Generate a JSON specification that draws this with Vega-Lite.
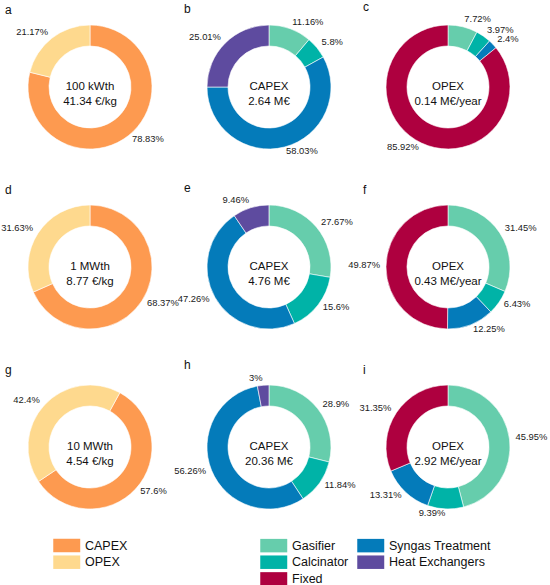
{
  "$schema": "https://vega.github.io/schema/vega-lite/v6.json",
  "padding": {"left": 1, "top": 0, "right": 0, "bottom": 0},
  "data": {
    "values": [
      {"panel": "a", "part": "CAPEX", "o": 1, "value": 78.83},
      {"panel": "a", "part": "OPEX", "o": 2, "value": 21.17},
      {"panel": "b", "part": "Gasifier", "o": 3, "value": 11.16},
      {"panel": "b", "part": "Calcinator", "o": 4, "value": 5.8},
      {"panel": "b", "part": "Syngas Treatment", "o": 5, "value": 58.03},
      {"panel": "b", "part": "Heat Exchangers", "o": 6, "value": 25.01},
      {"panel": "c", "part": "Gasifier", "o": 3, "value": 7.72},
      {"panel": "c", "part": "Calcinator", "o": 4, "value": 3.97},
      {"panel": "c", "part": "Syngas Treatment", "o": 5, "value": 2.4},
      {"panel": "c", "part": "Fixed", "o": 7, "value": 85.92},
      {"panel": "d", "part": "CAPEX", "o": 1, "value": 68.37},
      {"panel": "d", "part": "OPEX", "o": 2, "value": 31.63},
      {"panel": "e", "part": "Gasifier", "o": 3, "value": 27.67},
      {"panel": "e", "part": "Calcinator", "o": 4, "value": 15.6},
      {"panel": "e", "part": "Syngas Treatment", "o": 5, "value": 47.26},
      {"panel": "e", "part": "Heat Exchangers", "o": 6, "value": 9.46},
      {"panel": "f", "part": "Gasifier", "o": 3, "value": 31.45},
      {"panel": "f", "part": "Calcinator", "o": 4, "value": 6.43},
      {"panel": "f", "part": "Syngas Treatment", "o": 5, "value": 12.25},
      {"panel": "f", "part": "Fixed", "o": 7, "value": 49.87},
      {"panel": "g", "part": "CAPEX", "o": 1, "value": 57.6},
      {"panel": "g", "part": "OPEX", "o": 2, "value": 42.4},
      {"panel": "h", "part": "Gasifier", "o": 3, "value": 28.9},
      {"panel": "h", "part": "Calcinator", "o": 4, "value": 11.84},
      {"panel": "h", "part": "Syngas Treatment", "o": 5, "value": 56.26},
      {"panel": "h", "part": "Heat Exchangers", "o": 6, "value": 3},
      {"panel": "i", "part": "Gasifier", "o": 3, "value": 45.95},
      {"panel": "i", "part": "Calcinator", "o": 4, "value": 9.39},
      {"panel": "i", "part": "Syngas Treatment", "o": 5, "value": 13.31},
      {"panel": "i", "part": "Fixed", "o": 7, "value": 31.35},
      {"panel": "a", "center": "100 kWth\n41.34 €/kg"},
      {"panel": "b", "center": "CAPEX\n2.64 M€"},
      {"panel": "c", "center": "OPEX\n0.14 M€/year"},
      {"panel": "d", "center": "1 MWth\n8.77 €/kg"},
      {"panel": "e", "center": "CAPEX\n4.76 M€"},
      {"panel": "f", "center": "OPEX\n0.43 M€/year"},
      {"panel": "g", "center": "10 MWth\n4.54 €/kg"},
      {"panel": "h", "center": "CAPEX\n20.36 M€"},
      {"panel": "i", "center": "OPEX\n2.92 M€/year"}
    ]
  },
  "spacing": 17.5,
  "resolve": {"scale": {"color": "independent"}},
  "vconcat": [
    {
      "transform": [
        {"window": [{"op": "sum", "field": "value", "as": "cum"}], "groupby": ["panel"], "sort": [{"field": "o"}]},
        {"calculate": "datum.panel === 'g' ? 8 : 0", "as": "rot"},
        {"calculate": "datum.cum + datum.rot", "as": "t1"},
        {"calculate": "datum.t1 - datum.value", "as": "t0"},
        {"calculate": "datum.t1 - datum.value / 2", "as": "mid"},
        {"calculate": "format(datum.value, '~r') + '%'", "as": "lab"}
      ],
      "facet": {
        "field": "panel",
        "type": "nominal",
        "header": {"title": null, "labelAnchor": "start", "labelFontSize": 12, "labelColor": "#111", "labelPadding": 0.5}
      },
      "columns": 3,
      "bounds": "flush",
      "spacing": {"column": 9, "row": 40},
      "spec": {
        "width": 170,
        "height": 140,
        "layer": [
          {
            "transform": [{"filter": "isValid(datum.value)"}],
            "mark": {"type": "arc", "innerRadius": 41, "outerRadius": 62, "stroke": "#ffffff", "strokeWidth": 0.6},
            "encoding": {
              "theta": {"field": "t0", "type": "quantitative", "stack": null, "scale": {"domain": [0, 100]}},
              "theta2": {"field": "t1"},
              "color": {
                "field": "part",
                "type": "nominal",
                "scale": {
                  "domain": ["CAPEX", "OPEX", "Gasifier", "Calcinator", "Syngas Treatment", "Heat Exchangers", "Fixed"],
                  "range": ["#fd9a50", "#fed98e", "#66cdac", "#00b3a7", "#047bba", "#5e4b9f", "#ae003f"]
                },
                "legend": null
              }
            }
          },
          {
            "transform": [{"filter": "isValid(datum.value) && (datum.mid % 100) < 50"}],
            "mark": {"type": "text", "radius": 68, "dy": -1.5, "align": "left", "baseline": "middle", "fontSize": 9.4, "color": "#1a1a1a"},
            "encoding": {
              "theta": {"field": "mid", "type": "quantitative", "stack": null, "scale": {"domain": [0, 100]}},
              "text": {"field": "lab"}
            }
          },
          {
            "transform": [{"filter": "isValid(datum.value) && (datum.mid % 100) >= 50"}],
            "mark": {"type": "text", "radius": 68, "dy": -1.5, "align": "right", "baseline": "middle", "fontSize": 9.4, "color": "#1a1a1a"},
            "encoding": {
              "theta": {"field": "mid", "type": "quantitative", "stack": null, "scale": {"domain": [0, 100]}},
              "text": {"field": "lab"}
            }
          },
          {
            "transform": [{"filter": "isValid(datum.center)"}],
            "mark": {"type": "text", "fontSize": 11.5, "lineHeight": 14.5, "lineBreak": "\n", "align": "center", "baseline": "middle", "color": "#111"},
            "encoding": {"text": {"field": "center"}}
          }
        ]
      }
    },
    {
      "spacing": 128,
      "resolve": {"scale": {"color": "independent"}},
      "hconcat": [
        {
          "width": 48,
          "height": 1,
          "transform": [{"filter": "datum.part === 'CAPEX' || datum.part === 'OPEX'"}],
          "mark": {"type": "square", "opacity": 0},
          "encoding": {
            "color": {
              "field": "part",
              "type": "nominal",
              "scale": {"domain": ["CAPEX", "OPEX"], "range": ["#fd9a50", "#fed98e"]},
              "legend": {"title": null, "orient": "right", "offset": 0, "symbolOpacity": 1}
            }
          }
        },
        {
          "width": 1,
          "height": 1,
          "transform": [{"filter": "isValid(datum.part) && datum.part !== 'CAPEX' && datum.part !== 'OPEX'"}],
          "mark": {"type": "square", "opacity": 0},
          "encoding": {
            "color": {
              "field": "part",
              "type": "nominal",
              "scale": {
                "domain": ["Gasifier", "Calcinator", "Fixed", "Syngas Treatment", "Heat Exchangers"],
                "range": ["#66cdac", "#00b3a7", "#ae003f", "#047bba", "#5e4b9f"]
              },
              "legend": {"title": null, "orient": "right", "offset": 0, "columns": 2, "symbolOpacity": 1}
            }
          }
        }
      ]
    }
  ],
  "config": {
    "font": "Liberation Sans",
    "view": {"stroke": null},
    "legend": {
      "labelFontSize": 12.5,
      "labelColor": "#111",
      "symbolType": "M-1,-1H3V1H-1Z",
      "symbolSize": 182,
      "symbolStrokeWidth": 0,
      "labelOffset": 18,
      "rowPadding": 2.7,
      "columnPadding": 8,
      "padding": 0
    }
  }
}
